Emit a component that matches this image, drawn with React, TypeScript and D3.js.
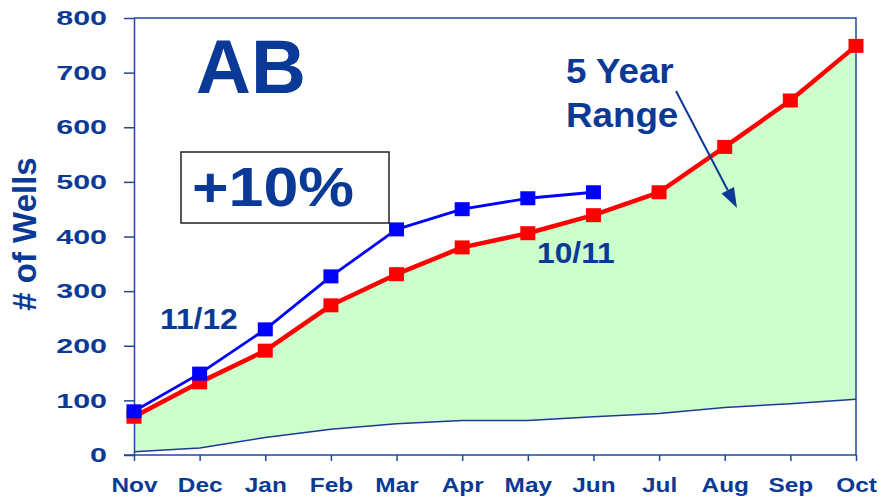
import React, { useEffect, useRef } from "react";
import * as d3 from "d3";

// months on the x axis
const months = ["Nov", "Dec", "Jan", "Feb", "Mar", "Apr", "May", "Jun", "Jul", "Aug", "Sep", "Oct"];
// 10/11 season (red)
const wells1011 = [70, 133, 191, 274, 331, 380, 406, 439, 481, 564, 649, 749];
// 11/12 season (blue), only up to Jun
const wells1112 = [80, 149, 230, 327, 413, 450, 470, 481];
// 5 year range band
const rangeLow = [6, 13, 32, 47, 57, 63, 63, 70, 76, 87, 94, 102];
const rangeHigh = [70, 133, 191, 274, 331, 380, 406, 439, 481, 564, 649, 749];
const yTicks = [0, 100, 200, 300, 400, 500, 600, 700, 800];

const W = 881;
const H = 499;
const FONT = "'Liberation Sans', Arial, Helvetica, sans-serif";
const TEXT = "#0a3a96";
const AXIS = "#1f47a0";

const Chart = () => {
  const ref = useRef<SVGSVGElement | null>(null);

  useEffect(() => {
    document.body.style.margin = "0";
    const svg = d3.select(ref.current);
    svg.selectAll("*").remove();

    const margin = { top: 18, right: 25, bottom: 44, left: 134 };
    const x = d3.scalePoint<string>().domain(months).range([margin.left, W - margin.right]);
    const y = d3.scaleLinear().domain([0, 800]).range([H - margin.bottom, margin.top]);

    // green 5 year range
    const band = months.map((m, i) => ({ m, lo: rangeLow[i], hi: rangeHigh[i] }));
    svg.append("path")
      .datum(band)
      .attr("fill", "#ccffcc")
      .attr("d", d3.area<any>().x(d => x(d.m)!).y0(d => y(d.lo)).y1(d => y(d.hi)));

    svg.append("path")
      .datum(band)
      .attr("fill", "none")
      .attr("stroke", "#1a3a96")
      .attr("stroke-width", 1.5)
      .attr("d", d3.line<any>().x(d => x(d.m)!).y(d => y(d.lo)));

    // frame top + right
    svg.append("path")
      .attr("fill", "none")
      .attr("stroke", AXIS)
      .attr("stroke-width", 1.5)
      .attr("d", `M${x.range()[0]},${y(800)}H${x.range()[1]}V${y(0)}`);

    // y axis
    const sy = 1.45;
    const gy = svg.append("g")
      .attr("transform", `translate(${margin.left},0)`)
      .call(d3.axisLeft(y).tickValues(yTicks).tickSize(10).tickSizeOuter(0));
    gy.selectAll("path, line").attr("stroke", AXIS).attr("stroke-width", 1.5);
    gy.selectAll("text")
      .attr("x", -27 / sy)
      .attr("transform", `scale(${sy},1)`)
      .attr("fill", TEXT)
      .style("font", `bold 21px ${FONT}`);

    // x axis
    const sx = 1.22;
    const gx = svg.append("g")
      .attr("transform", `translate(0,${y(0)})`)
      .call(d3.axisBottom(x).tickSize(6).tickSizeOuter(0));
    gx.selectAll("path, line").attr("stroke", AXIS).attr("stroke-width", 1.5);
    gx.select(".domain").attr("d", `M${x.range()[0] - 10},0H${x.range()[1]}`);
    gx.selectAll("text")
      .attr("y", 22.5)
      .attr("transform", `scale(${sx},1)`)
      .attr("fill", TEXT)
      .style("font", `bold 20px ${FONT}`);

    // series
    const drawSeries = (vals: number[], color: string, width: number, ms: number) => {
      const pts = vals.map((v, i) => ({ m: months[i], v }));
      svg.append("path")
        .datum(pts)
        .attr("fill", "none")
        .attr("stroke", color)
        .attr("stroke-width", width)
        .attr("stroke-linejoin", "round")
        .attr("d", d3.line<any>().x(d => x(d.m)!).y(d => y(d.v)));
      svg.append("g")
        .attr("fill", color)
        .selectAll("rect")
        .data(pts)
        .join("rect")
        .attr("x", d => x(d.m)! - ms / 2)
        .attr("y", d => y(d.v) - (ms - 1) / 2)
        .attr("width", ms)
        .attr("height", ms - 1);
    };
    drawSeries(wells1011, "#ff0000", 4.5, 15);
    drawSeries(wells1112, "#0000ff", 2.8, 15);

    // y label
    svg.append("text")
      .attr("transform", "translate(36,234) rotate(-90)")
      .attr("text-anchor", "middle")
      .attr("fill", TEXT)
      .style("font", `bold 33px ${FONT}`)
      .text("# of Wells");

    // annotations
    const label = (t: string, px: number, py: number, size: number, s = 1) =>
      svg.append("text")
        .attr("transform", `translate(${px},${py}) scale(${s},1)`)
        .attr("fill", TEXT)
        .style("font", `bold ${size}px ${FONT}`)
        .text(t);

    label("AB", 196, 92.5, 76);

    svg.append("rect")
      .attr("x", 181).attr("y", 152).attr("width", 208).attr("height", 71)
      .attr("fill", "white").attr("stroke", "#222").attr("stroke-width", 1.5);
    label("+10%", 192, 205.5, 55, 1.14);

    label("11/12", 160, 328.5, 30, 1.06);
    label("10/11", 537, 262.5, 30, 1.06);
    label("5 Year", 566, 82.5, 35, 1.05);
    label("Range", 566, 126.5, 35, 1.05);

    // arrow
    const a0 = [676, 91];
    const a1 = [737, 208];
    const ang = Math.atan2(a1[1] - a0[1], a1[0] - a0[0]);
    const hl = 20, hw = 7;
    const bx = a1[0] - hl * Math.cos(ang), by = a1[1] - hl * Math.sin(ang);
    svg.append("line")
      .attr("x1", a0[0]).attr("y1", a0[1]).attr("x2", bx).attr("y2", by)
      .attr("stroke", "#0a3a96").attr("stroke-width", 2);
    svg.append("polygon")
      .attr("fill", "#0a3a96")
      .attr("points", [
        a1,
        [bx + hw * Math.sin(ang), by - hw * Math.cos(ang)],
        [bx - hw * Math.sin(ang), by + hw * Math.cos(ang)],
      ].map(p => p.join(",")).join(" "));
  }, []);

  return <svg ref={ref} width={W} height={H} style={{ display: "block", background: "white" }} />;
};

export default function App() {
  return <Chart />;
}
